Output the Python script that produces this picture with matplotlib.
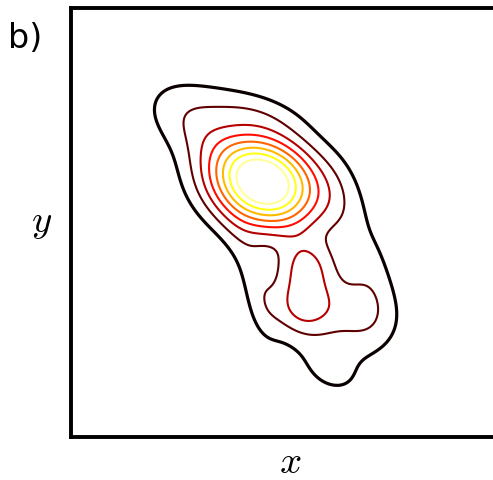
import numpy as np
import matplotlib
matplotlib.use("Agg")
import matplotlib.pyplot as plt

# gaussian blobs that make up the density (axes pixel units, origin lower left)
# centre x, centre y, sigma major, sigma minor, angle (deg), weight
cx = [192, 117, 235, 230, 274, 259, 179, 191, 301, 179, 269]
cy = [255, 319, 173, 132, 125, 65, 172, 127, 162, 329, 232]
s_major = [40, 35, 19, 22, 38, 30, 35, 30, 45, 40, 35]
s_minor = [31, 24, 21, 21, 28, 20, 14, 12, 18, 15, 18]
angle = [-25, -30, -90, -90, -20, -30, -70, -80, -90, -15, -80]
weight = [1.0, 0.16, 0.23, 0.25, 0.20, 0.11, 0.09, 0.08, 0.10, 0.10, 0.09]

# equally spaced contour levels of the normalised density
levels = [0.1, 0.2, 0.3, 0.4, 0.5, 0.6, 0.7, 0.8, 0.9]

side = 429
xs = np.linspace(0, side, 500)
ys = np.linspace(0, side, 500)
X, Y = np.meshgrid(xs, ys)
Z = np.zeros_like(X)
for x0, y0, a, b, th, w in zip(cx, cy, s_major, s_minor, angle, weight):
    t = np.deg2rad(th)
    dx, dy = X - x0, Y - y0
    u = dx * np.cos(t) + dy * np.sin(t)
    v = -dx * np.sin(t) + dy * np.cos(t)
    Z += w * np.exp(-0.5 * ((u / a) ** 2 + (v / b) ** 2))
Z /= Z.max()

fig = plt.figure(figsize=(4.93, 4.80), dpi=100)
ax = fig.add_axes([71 / 493, 43 / 480, side / 493, side / 480])

lws = [2.3] + [1.5] * (len(levels) - 1)
ax.contour(X, Y, Z, levels=levels, cmap="hot", vmin=0.1, vmax=0.88, linewidths=lws)

ax.set_xlim(0, side)
ax.set_ylim(0, side)
ax.set_xticks([])
ax.set_yticks([])
for sp in ax.spines.values():
    sp.set_linewidth(2.8)

plt.rcParams["mathtext.fontset"] = "cm"
fig.text(290 / 493, 1 - 462 / 480, r"$x$", fontsize=28, ha="center", va="center")
fig.text(42 / 493, 1 - 222 / 480, r"$y$", fontsize=28, ha="center", va="center")
fig.text(8 / 493, 1 - 38 / 480, "b)", fontsize=24, ha="left", va="center")

fig.savefig("out.png", dpi=100)
